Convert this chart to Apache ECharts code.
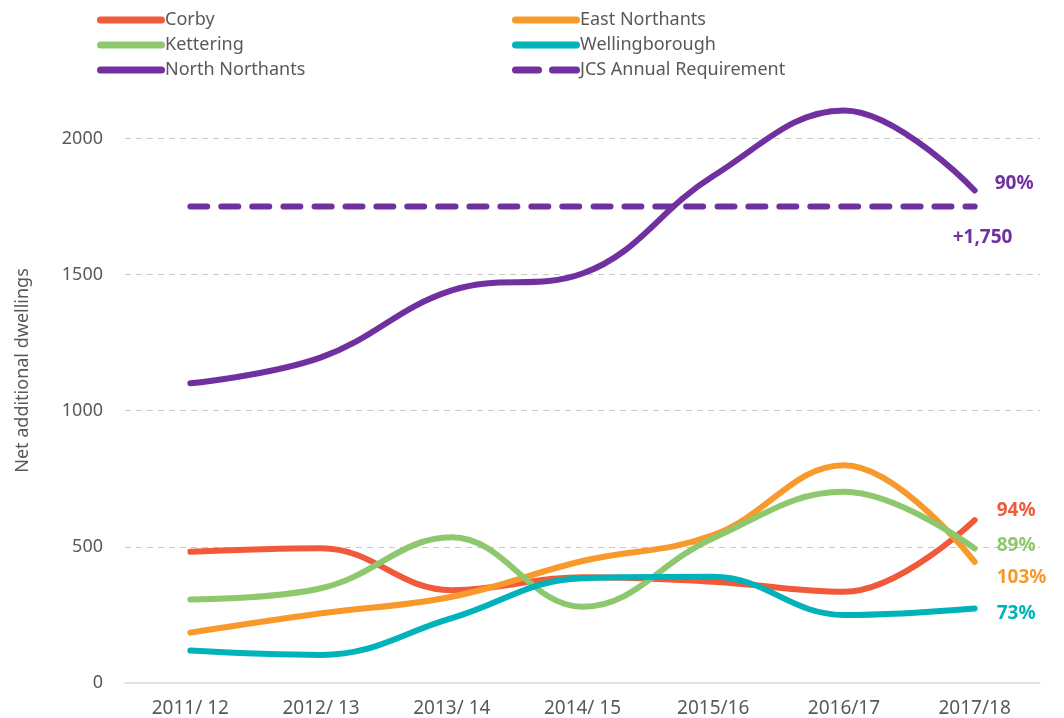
<!DOCTYPE html>
<html>
<head>
<meta charset="utf-8">
<script src="https://cdn.jsdelivr.net/npm/echarts@6/dist/echarts.min.js"></script>
<style>
  html, body { margin: 0; padding: 0; background: #fff; }
  #chart { width: 1064px; height: 718px; }
</style>
</head>
<body>
<div id="chart"></div>
<script>
var years = ['2011/ 12', '2012/ 13', '2013/ 14', '2014/ 15', '2015/16', '2016/17', '2017/18'];
var corby = [482, 495, 341, 388, 372, 335, 598];
var eastNorthants = [185, 256, 317, 448, 543, 800, 445];
var kettering = [307, 348, 535, 280, 532, 702, 494];
var wellingborough = [119, 103, 238, 385, 390, 250, 274];
var northNorthants = [1101, 1196, 1442, 1504, 1862, 2103, 1809];
var jcsRequirement = [1750, 1750, 1750, 1750, 1750, 1750, 1750];

var font = 'Noto Sans';
var grey = '#595959';

// legend icons: a pill for the solid lines, two pills for the dashed one
var pill = 'path://M3.5,0 H64.5 A3.5,3.5 0 0 1 64.5,7 H3.5 A3.5,3.5 0 0 1 3.5,0 Z';
var dashPill = 'path://M3.5,0 H26.5 A3.5,3.5 0 0 1 26.5,7 H3.5 A3.5,3.5 0 0 1 3.5,0 Z ' +
               'M40.5,0 H64.5 A3.5,3.5 0 0 1 64.5,7 H40.5 A3.5,3.5 0 0 1 40.5,0 Z';

function lineSeries(name, data, color, label, offset, dashed) {
    return {
        name: name,
        type: 'line',
        data: data,
        smooth: 0.4,
        symbol: 'none',
        lineStyle: {
            color: color,
            width: 6,
            cap: 'round',
            type: dashed ? [17, 14] : 'solid'
        },
        itemStyle: { color: color },
        endLabel: {
            show: true,
            formatter: label,
            offset: offset,
            color: color,
            fontFamily: font,
            fontWeight: 'bold',
            fontSize: 19
        }
    };
}

function legendBlock(left, names, icons) {
    return {
        left: left,
        top: 6,
        orient: 'vertical',
        itemWidth: 68,
        itemHeight: 8,
        itemGap: 7,
        textStyle: { color: grey, fontSize: 18, fontFamily: font, padding: [0, 0, 0, -5] },
        data: names.map(function (n, i) { return { name: n, icon: icons[i] }; })
    };
}

var chart = echarts.init(document.getElementById('chart'));

var option = {
    animation: false,
    backgroundColor: '#fff',
    textStyle: { fontFamily: font },
    legend: [
        legendBlock(92, ['Corby', 'Kettering', 'North Northants'], [pill, pill, pill]),
        legendBlock(507, ['East Northants', 'Wellingborough', 'JCS Annual Requirement'], [pill, pill, dashPill])
    ],
    grid: {
        left: 125,
        right: 24,
        top: 84,
        bottom: 35
    },
    xAxis: {
        type: 'category',
        data: years,
        boundaryGap: true,
        axisLine: { lineStyle: { color: '#d9d9d9', width: 1.5 } },
        axisTick: { show: false },
        axisLabel: { color: grey, fontSize: 19, margin: 16, fontFamily: font }
    },
    yAxis: {
        type: 'value',
        min: 0,
        max: 2200,
        interval: 500,
        name: 'Net additional dwellings',
        nameLocation: 'middle',
        nameGap: 93,
        nameRotate: 90,
        nameTextStyle: { color: grey, fontSize: 18, fontFamily: font, padding: [0, 0, 0, 26] },
        axisLine: { show: false },
        axisTick: { show: false },
        axisLabel: {
            color: grey,
            fontSize: 18,
            margin: 22,
            fontFamily: font,
            showMaxLabel: false,
            formatter: function (v) { return String(v); }
        },
        splitLine: {
            showMinLine: false,
            showMaxLine: false,
            lineStyle: { color: '#c8c8c8', type: [6, 5], width: 1 }
        }
    },
    series: [
        lineSeries('Corby', corby, '#f05a3a', '94%', [14, -10]),
        lineSeries('East Northants', eastNorthants, '#f7992b', '103%', [14, 16]),
        lineSeries('Kettering', kettering, '#8dc86e', '89%', [14, -3]),
        lineSeries('Wellingborough', wellingborough, '#00b2ba', '73%', [14, 5]),
        lineSeries('North Northants', northNorthants, '#7030a0', '90%', [12, -7]),
        lineSeries('JCS Annual Requirement', jcsRequirement, '#7030a0', '+1,750', [-30, 31], true)
    ]
};

chart.setOption(option);
</script>
</body>
</html>
